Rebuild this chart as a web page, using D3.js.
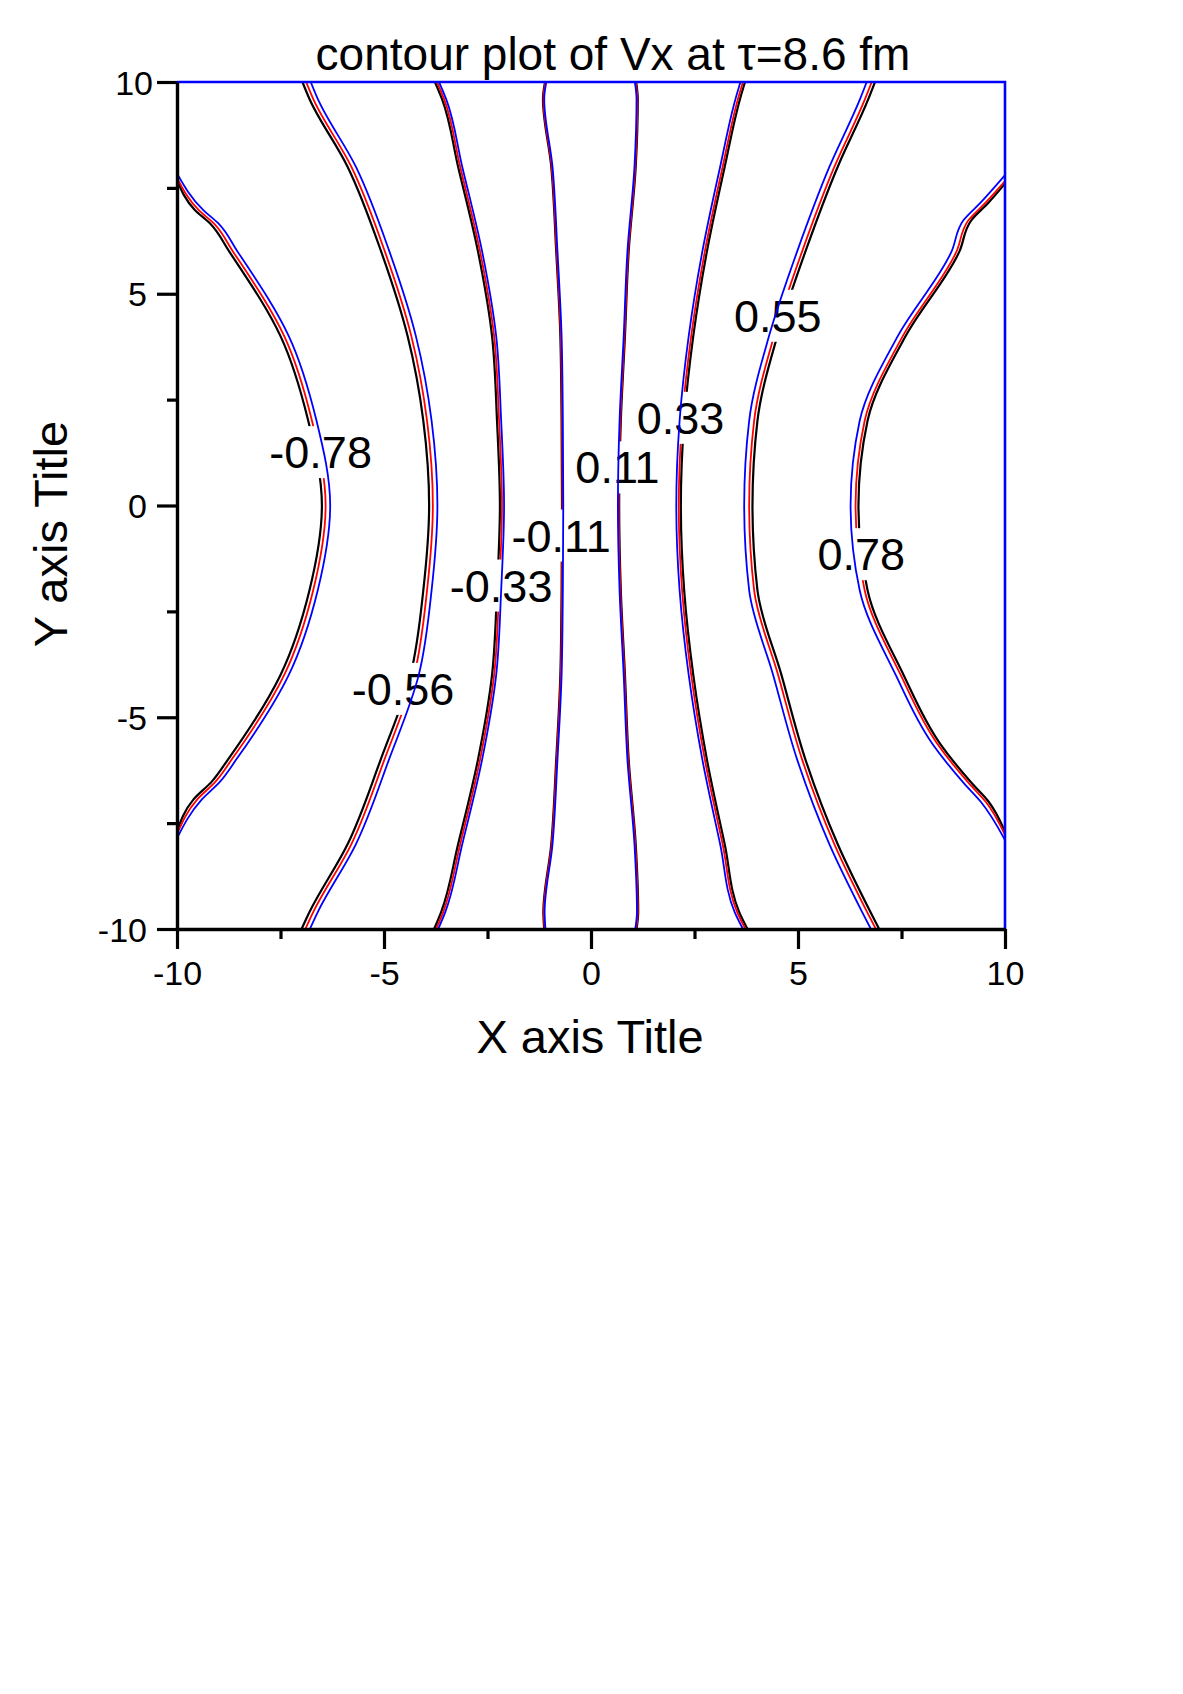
<!DOCTYPE html>
<html>
<head>
<meta charset="utf-8">
<script src="https://cdn.jsdelivr.net/npm/d3@7"></script>
<style>
  body { margin: 0; background: #fff; }
  text { font-family: "Liberation Sans", Arial, Helvetica, sans-serif; }
</style>
</head>
<body>
<svg id="chart"></svg>
<script>
const rowsY = [10, 9.6, 8, 6, 4, 2, 0, -2, -4, -6, -8, -9.6, -10];

// x of the inner contours (-0.56, -0.33, -0.11, 0.11, 0.33, 0.55) at each row
const blackInnerX = [
    [-6.97, -6.8, -5.88, -5.07, -4.43, -4.05, -3.91, -4.05, -4.36, -5.08, -5.88, -6.8, -6.99],
    [-3.77, -3.6, -3.21, -2.73, -2.39, -2.27, -2.2, -2.27, -2.39, -2.73, -3.21, -3.62, -3.79],
    [-1.11, -1.16, -0.96, -0.84, -0.74, -0.71, -0.7, -0.71, -0.74, -0.84, -0.96, -1.15, -1.13],
    [1.09, 1.13, 1.08, 0.91, 0.82, 0.72, 0.68, 0.72, 0.82, 0.91, 1.08, 1.14, 1.10],
    [3.72, 3.6, 3.23, 2.8, 2.47, 2.25, 2.17, 2.25, 2.47, 2.8, 3.23, 3.58, 3.78],
    [6.86, 6.7, 5.96, 5.18, 4.5, 4.02, 3.9, 4.02, 4.6, 5.18, 5.96, 6.75, 6.96]
];
const redInnerX = [
    [-6.88, -6.71, -5.79, -4.98, -4.34, -3.96, -3.82, -3.96, -4.27, -4.99, -5.79, -6.71, -6.90],
    [-3.72, -3.55, -3.16, -2.68, -2.34, -2.22, -2.15, -2.22, -2.34, -2.68, -3.16, -3.57, -3.74],
    [-1.10, -1.15, -0.95, -0.83, -0.73, -0.70, -0.69, -0.70, -0.73, -0.83, -0.95, -1.14, -1.12],
    [1.08, 1.12, 1.07, 0.90, 0.81, 0.71, 0.67, 0.71, 0.81, 0.90, 1.07, 1.13, 1.09],
    [3.67, 3.55, 3.18, 2.75, 2.42, 2.20, 2.12, 2.20, 2.42, 2.75, 3.18, 3.53, 3.73],
    [6.78, 6.62, 5.88, 5.10, 4.42, 3.94, 3.82, 3.94, 4.52, 5.10, 5.88, 6.67, 6.88]
];
const blueInnerX = [
    [-6.77, -6.60, -5.68, -4.87, -4.23, -3.85, -3.71, -3.85, -4.16, -4.88, -5.68, -6.60, -6.79],
    [-3.67, -3.50, -3.11, -2.63, -2.29, -2.17, -2.10, -2.17, -2.29, -2.63, -3.11, -3.52, -3.69],
    [-1.08, -1.13, -0.93, -0.81, -0.71, -0.68, -0.67, -0.68, -0.71, -0.81, -0.93, -1.12, -1.10],
    [1.06, 1.10, 1.05, 0.88, 0.79, 0.69, 0.65, 0.69, 0.79, 0.88, 1.05, 1.11, 1.07],
    [3.61, 3.49, 3.12, 2.69, 2.36, 2.14, 2.06, 2.14, 2.36, 2.69, 3.12, 3.47, 3.67],
    [6.66, 6.50, 5.76, 4.98, 4.30, 3.82, 3.70, 3.82, 4.40, 4.98, 5.76, 6.55, 6.76]
];

// outer contours (-0.78 and 0.78) run into the side walls, kept as [x, y] points
const blackOuter = [
    [[-10, 7.69], [-9.57, 6.98], [-9.2, 6.66], [-8.74, 6], [-7.5, 4], [-6.83, 2], [-6.5, 0], [-6.8, -2], [-7.5, -4], [-8.77, -6], [-9.16, -6.52], [-9.61, -6.95], [-10, -7.7]],
    [[10, 7.6], [9.6, 7.15], [9.19, 6.74], [8.9, 6], [7.6, 4], [6.68, 2], [6.46, 0], [6.68, -2], [7.55, -4], [8.43, -5.62], [9.2, -6.56], [9.6, -6.99], [10, -7.7]]
];
const redOuter = [
    [[-10, 7.74], [-9.48, 6.98], [-9.11, 6.66], [-8.65, 6], [-7.41, 4], [-6.74, 2], [-6.41, 0], [-6.71, -2], [-7.41, -4], [-8.68, -6], [-9.07, -6.52], [-9.52, -6.95], [-10, -7.76]],
    [[10, 7.66], [9.53, 7.15], [9.12, 6.74], [8.83, 6], [7.53, 4], [6.61, 2], [6.39, 0], [6.61, -2], [7.48, -4], [8.36, -5.62], [9.13, -6.56], [9.53, -6.99], [10, -7.78]]
];
const blueOuter = [
    [[-10, 7.84], [-9.37, 6.98], [-9.0, 6.66], [-8.54, 6], [-7.3, 4], [-6.63, 2], [-6.3, 0], [-6.6, -2], [-7.3, -4], [-8.57, -6], [-8.96, -6.52], [-9.41, -6.95], [-10, -7.86]],
    [[10, 7.8], [9.41, 7.15], [9.0, 6.74], [8.71, 6], [7.41, 4], [6.49, 2], [6.27, 0], [6.49, -2], [7.36, -4], [8.24, -5.62], [9.01, -6.56], [9.41, -6.99], [10, -7.9]]
];

// contour labels and where they sit (data coords of the label centre)
const levelLabels = ["-0.78", "-0.56", "-0.33", "-0.11", "0.11", "0.33", "0.55", "0.78"];
const labelAt = [[-6.53, 1.26], [-4.54, -4.33], [-2.17, -1.89], [-0.72, -0.71], [0.64, 0.90], [2.16, 2.07], [4.51, 4.48], [6.53, -1.15]];

const majorTicks = [-10, -5, 0, 5, 10];
const minorTicks = [-7.5, -2.5, 2.5, 7.5];

// Configuration
const width = 1183;
const height = 1694;
const plot = { left: 177, right: 1005, top: 82, bottom: 929 };
const labelSize = 45;
const tickSize = 34;

const svg = d3.select('#chart')
    .attr('width', width)
    .attr('height', height);

svg.append('rect')
    .attr('width', width)
    .attr('height', height)
    .attr('fill', '#fff');

const x = d3.scaleLinear().domain([-10, 10]).range([plot.left, plot.right]);
const y = d3.scaleLinear().domain([-10, 10]).range([plot.bottom, plot.top]);

svg.append('defs').append('clipPath')
    .attr('id', 'plot-clip')
    .append('rect')
    .attr('x', plot.left)
    .attr('y', plot.top)
    .attr('width', plot.right - plot.left)
    .attr('height', plot.bottom - plot.top);

// inner rows + outer point lists -> one list of polylines per layer
// (sorted bottom to top so the monotone curve can run along y)
function buildLines(innerX, outer) {
    const inner = innerX.map(xs => xs.map((v, i) => [v, rowsY[i]]));
    return [outer[0], ...inner, outer[1]]
        .map(pts => pts.slice().sort((a, b) => a[1] - b[1]));
}

const line = d3.line()
    .x(d => x(d[0]))
    .y(d => y(d[1]))
    .curve(d3.curveMonotoneY);

function drawLayer(lines, color, strokeWidth) {
    svg.append('g')
        .attr('clip-path', 'url(#plot-clip)')
        .selectAll('path')
        .data(lines)
        .enter()
        .append('path')
        .attr('d', line)
        .attr('fill', 'none')
        .attr('stroke', color)
        .attr('stroke-width', strokeWidth)
        .attr('stroke-linejoin', 'round');
}

drawLayer(buildLines(blackInnerX, blackOuter), '#000', 2.2);
drawLayer(buildLines(redInnerX, redOuter), '#ff0000', 1.8);

// contour labels knock out the black and red lines
const labelGroup = svg.append('g');
levelLabels.forEach((lab, i) => {
    const cx = x(labelAt[i][0]);
    const cy = y(labelAt[i][1]);
    const knock = labelGroup.append('rect').attr('fill', '#fff');
    const t = labelGroup.append('text')
        .attr('x', cx)
        .attr('y', cy + 0.358 * labelSize)
        .attr('text-anchor', 'middle')
        .attr('font-size', labelSize)
        .attr('fill', '#000')
        .text(lab);
    const bb = t.node().getBBox();
    knock.attr('x', bb.x - 2)
        .attr('y', cy - 26)
        .attr('width', bb.width + 4)
        .attr('height', 52);
});

// blue layer is drawn over the labels
drawLayer(buildLines(blueInnerX, blueOuter), '#0000ff', 1.8);

// frame: top and right in blue
svg.append('path')
    .attr('d', `M${plot.left},${plot.top} H${plot.right} V${plot.bottom}`)
    .attr('fill', 'none')
    .attr('stroke', '#0000ff')
    .attr('stroke-width', 2.6);

// axes
function styleAxis(g) {
    g.select('.domain').attr('stroke', '#000').attr('stroke-width', 3.4);
    g.selectAll('.tick line').attr('stroke', '#000').attr('stroke-width', 3.2);
}

const fmt = d => d3.format('d')(d).replace('−', '-');

const xAxis = svg.append('g')
    .attr('transform', `translate(0,${plot.bottom})`)
    .call(d3.axisBottom(x).tickValues(majorTicks).tickSize(20).tickSizeOuter(0));
svg.append('g')
    .attr('transform', `translate(0,${plot.bottom})`)
    .call(d3.axisBottom(x).tickValues(minorTicks).tickSize(10).tickSizeOuter(0).tickFormat(''))
    .call(g => g.select('.domain').remove())
    .call(styleAxis);
xAxis.call(styleAxis);
xAxis.selectAll('.tick text')
    .attr('y', 56)
    .attr('dy', 0)
    .attr('font-size', tickSize)
    .attr('font-family', null)
    .attr('fill', '#000')
    .text(fmt);

const yAxis = svg.append('g')
    .attr('transform', `translate(${plot.left},0)`)
    .call(d3.axisLeft(y).tickValues(majorTicks).tickSize(20).tickSizeOuter(0));
svg.append('g')
    .attr('transform', `translate(${plot.left},0)`)
    .call(d3.axisLeft(y).tickValues(minorTicks).tickSize(10).tickSizeOuter(0).tickFormat(''))
    .call(g => g.select('.domain').remove())
    .call(styleAxis);
yAxis.call(styleAxis);
yAxis.selectAll('.tick text')
    .attr('x', d => d === 10 ? -24 : -30)
    .attr('dy', 12)
    .attr('font-size', tickSize)
    .attr('font-family', null)
    .attr('fill', '#000')
    .text(fmt);

// titles
svg.append('text')
    .attr('x', 613)
    .attr('y', 70)
    .attr('text-anchor', 'middle')
    .attr('font-size', 46)
    .attr('fill', '#000')
    .text('contour plot of Vx at τ=8.6 fm');

svg.append('text')
    .attr('x', 590)
    .attr('y', 1053)
    .attr('text-anchor', 'middle')
    .attr('font-size', 47)
    .attr('fill', '#000')
    .text('X axis Title');

svg.append('text')
    .attr('transform', 'translate(67,534) rotate(-90)')
    .attr('text-anchor', 'middle')
    .attr('font-size', 47)
    .attr('fill', '#000')
    .text('Y axis Title');
</script>
</body>
</html>
